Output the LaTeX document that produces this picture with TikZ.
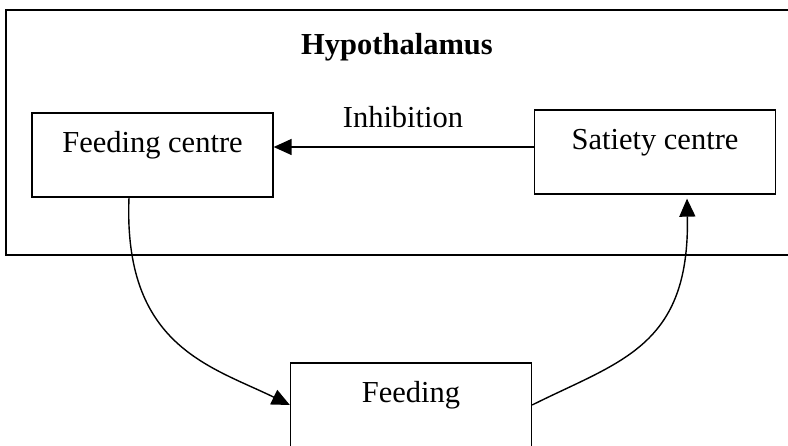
\documentclass[tikz,border=0pt]{standalone}
\usepackage{fontspec}
\setmainfont{Liberation Serif}
\usetikzlibrary{arrows.meta}
\begin{document}
\begin{tikzpicture}[x=1pt,y=-1pt,
  every node/.style={font=\fontsize{30.5pt}{36pt}\selectfont},
  box/.style={draw, line width=1.3pt, minimum width=241pt, inner xsep=0pt, inner ysep=0pt, text height=40pt, text depth=44pt, anchor=base},
  arr/.style={line width=1.4pt, -{Triangle[length=18pt,width=16pt]}}
]
\useasboundingbox (0,0) rectangle (788,446);
\draw[line width=1.3pt] (6,10) rectangle (791,255);
\node[anchor=base, font=\fontsize{30.5pt}{36pt}\selectfont\bfseries] (hypo) at (397,55) {Hypothalamus};
\node[box] (fc) at (152.5,153) {Feeding centre};
\node[box] (sc) at (655,150) {Satiety centre};
\node[box] (fd) at (411,403) {Feeding};
\node[anchor=base] (inh) at (403,128) {Inhibition};
\draw[arr] ([yshift=5pt]sc.west) -- ([yshift=5pt]sc.west -| fc.east);
\draw[arr] ([xshift=-23.5pt]fc.south) .. controls +(-6,148) and +(-80,-39) .. (fd.west);
\draw[arr] (fd.east) .. controls +(88,-44) and +(3,148) .. ([xshift=32pt,yshift=-4pt]sc.south);
\end{tikzpicture}
\end{document}
